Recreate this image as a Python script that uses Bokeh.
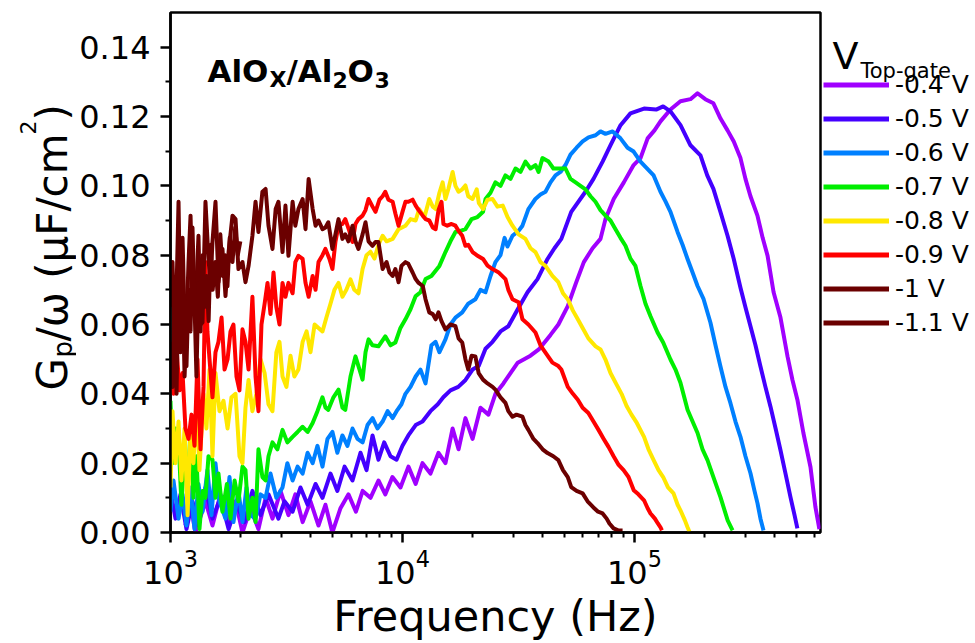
import math
from bokeh.plotting import figure
from bokeh.layouts import row
from bokeh.models import Range1d, Label, Legend, LegendItem, FixedTicker, PrintfTickFormatter
from bokeh.embed import file_html
from bokeh.resources import INLINE

# ---------------- data ----------------
f_04 = [1160,1220,1281,1415,1517,1642,1780,1907,2043,2212,2394,2570,2752,2980,3225,3453,3712,4013,4345,4655,
        4987,5405,5852,6300,6735,7280,7880,8430,9050,9804,10610,11400,12200,13205,14300,15320,16450,17450,18680,20050,
        21690,23480,25160,27240,29220,31400,35630,38700,43460,47000,51600,56000,60500,66000,71390,75000,81400,90000,99200,106200,
        114000,122000,129500,143000,157900,174400,187000,202000,219000,235000,252000,268000,286500,301000,316400,339000,357000,375000,398000,426200,
        457000,480000,504000,535000,574000,603000,627000]
g_04 = [0.002,0.008,0.0,0.009,0.002,0.011,0.003,0.009,0.0,0.007,0.001,0.010,0.004,0.012,0.005,0.011,0.003,0.009,0.002,0.008,
        0.0,0.007,0.011,0.006,0.012,0.010,0.015,0.011,0.016,0.013,0.019,0.014,0.020,0.017,0.023,0.020,0.030,0.024,0.033,0.027,
        0.036,0.034,0.040,0.043,0.046,0.049,0.051,0.0528,0.057,0.060,0.0653,0.072,0.078,0.082,0.0847,0.0904,0.0962,0.101,0.106,0.108,
        0.1137,0.116,0.1186,0.122,0.1244,0.125,0.1267,0.125,0.1238,0.1194,0.116,0.1128,0.108,0.102,0.097,0.0914,0.085,0.0798,0.0693,0.062,
        0.0508,0.044,0.0383,0.0287,0.0189,0.0073,0.001]

f_05 = [1000,1051,1104,1172,1244,1320,1415,1517,1642,1780,1925,2085,2255,2443,2645,2920,3100,3360,3634,3900,
        4220,4520,4894,5240,5630,6090,6592,7000,7430,7880,8340,8880,9430,10000,10600,11400,12200,13200,14200,15000,
        16100,17400,18700,20050,21300,22800,24450,26460,28600,31400,34600,38200,42200,45200,48400,53400,61500,66600,72900,78800,
        87100,96100,110000,124000,133000,143000,158000,174400,192600,206000,219000,235000,252000,268000,286500,301000,316400,332500,349400,367000,
        386000,406000,426000,448000,470600,490000,504000]
g_05 = [0.012,0.004,0.011,0.001,0.009,0.002,0.013,0.004,0.010,0.001,0.008,0.003,0.012,0.005,0.011,0.004,0.009,0.006,0.013,0.008,
        0.014,0.010,0.017,0.012,0.019,0.015,0.023,0.018,0.028,0.021,0.026,0.022,0.021,0.025,0.028,0.031,0.032,0.035,0.037,0.039,
        0.041,0.042,0.044,0.047,0.048,0.053,0.055,0.058,0.0595,0.0644,0.0693,0.0731,0.0789,0.082,0.0847,0.0925,0.0983,0.102,0.107,0.1117,
        0.1175,0.1209,0.1223,0.122,0.1229,0.1215,0.1175,0.1117,0.1088,0.103,0.0991,0.0924,0.0856,0.0789,0.0706,0.065,0.0595,0.054,0.0479,0.042,
        0.0363,0.030,0.0238,0.017,0.0102,0.005,0.0012]

f_06 = [1000,1030,1083,1127,1172,1220,1269,1320,1374,1443,1502,1563,1626,1726,1796,1868,1963,2043,2126,2212,
        2326,2443,2570,2698,2860,3040,3190,3360,3530,3712,3900,4100,4300,4520,4750,4990,5240,5510,5790,6090,
        6400,6730,7070,7430,7800,8210,8630,9070,9430,9900,10300,10830,11400,11960,12570,13330,13890,14430,15320,16100,
        16920,18100,19210,20620,21690,22800,23960,25160,26460,27550,28370,29800,31660,32900,34900,37400,39350,41350,43460,45670,
        47990,50430,53000,56300,59800,63400,68000,71390,75000,80500,87060,93400,99200,106200,111600,121000,129500,136100,143000,153400,
        161200,169400,178100,187100,198700,212700,223600,234900,246900,259400,272600,286500,301000,316400,329300,339300,349400,360100]
g_06 = [0.006,0.015,0.004,0.011,0.002,0.013,0.001,0.014,0.006,0.018,0.005,0.020,0.009,0.004,0.016,0.003,0.012,0.003,0.013,0.005,
        0.004,0.011,0.010,0.017,0.010,0.013,0.020,0.015,0.019,0.017,0.023,0.020,0.025,0.019,0.027,0.029,0.023,0.028,0.025,0.030,
        0.027,0.026,0.031,0.033,0.030,0.032,0.035,0.033,0.035,0.037,0.040,0.042,0.045,0.047,0.043,0.054,0.055,0.052,0.0557,0.060,
        0.062,0.0635,0.066,0.0673,0.070,0.0693,0.074,0.078,0.080,0.085,0.0825,0.0856,0.087,0.0885,0.0933,0.0962,0.0975,0.0983,0.101,0.103,
        0.104,0.106,0.109,0.111,0.1128,0.114,0.1146,0.1157,0.1150,0.1157,0.1137,0.111,0.1099,0.107,0.1055,0.103,0.0983,0.0955,0.0925,0.0867,
        0.083,0.0789,0.075,0.0711,0.0673,0.0605,0.054,0.0479,0.042,0.0373,0.032,0.0276,0.022,0.0171,0.012,0.0084,0.004,0.0006]

f_07 = [1000,1020,1051,1083,1115,1150,1185,1220,1256,1294,1333,1374,1415,1458,1517,1563,1610,1675,1750,1814,
        1890,1963,2043,2105,2170,2255,2326,2394,2490,2570,2645,2752,2890,3040,3190,3360,3530,3712,3900,4100,
        4300,4520,4660,4790,5040,5300,5510,5670,5970,6270,6530,6730,6930,7140,7430,7880,8430,8880,9320,9800,
        10300,10830,11400,11960,12570,13330,14430,15320,16100,16920,17790,18680,19860,21050,22250,22800,23960,25160,26460,27790,
        29220,30700,32270,33900,35630,37440,38600,40120,42650,44730,47000,50430,53000,55750,58530,61500,64640,67930,71390,75030,
        78840,82860,87060,91480,96150,101000,106200,111600,117300,125800,133000,143000,150300,157900,169400,178100,187100,196600,206500,219000,
        234900,252300,264800]
g_07 = [0.038,0.020,0.030,0.027,0.008,0.024,0.012,0.030,0.010,0.022,0.001,0.012,0.010,0.022,0.021,0.010,0.017,0.006,0.014,0.004,
        0.015,0.009,0.019,0.018,0.004,0.010,0.003,0.024,0.016,0.015,0.022,0.026,0.024,0.0296,0.026,0.0276,0.029,0.0305,0.029,0.0316,
        0.035,0.039,0.036,0.0354,0.039,0.0412,0.036,0.0354,0.045,0.0508,0.047,0.0441,0.052,0.0557,0.054,0.0537,0.0566,0.054,0.0548,0.059,
        0.0615,0.0644,0.0682,0.0693,0.0731,0.074,0.0769,0.0809,0.084,0.0867,0.087,0.0875,0.0904,0.091,0.0925,0.0962,0.098,0.101,0.100,0.103,
        0.102,0.105,0.104,0.107,0.105,0.106,0.104,0.108,0.107,0.105,0.105,0.105,0.102,0.101,0.100,0.099,0.097,0.0954,0.093,0.0914,
        0.090,0.0875,0.085,0.0827,0.079,0.0769,0.0711,0.066,0.0624,0.0577,0.0548,0.0499,0.047,0.0432,0.0354,0.032,0.0287,0.024,0.0209,0.016,
        0.0102,0.0035,0.0006]

f_08 = [1000,1020,1051,1083,1115,1150,1185,1220,1256,1294,1333,1388,1429,1473,1517,1563,1626,1692,1762,1832,
        1907,1983,2043,2105,2170,2255,2345,2443,2545,2645,2752,2860,2950,3040,3160,3290,3420,3560,3712,3860,
        4013,4180,4345,4520,4700,4894,5090,5300,5510,5730,5970,6200,6460,6730,7000,7280,7570,7880,8210,8540,
        9070,9620,10300,10830,11400,11800,12440,13050,13500,13900,14430,14900,15320,15760,16450,16920,17450,18100,18680,19210,
        20050,20900,21350,22250,23260,24450,25670,27050,28370,29800,31660,33900,35630,37440,39350,41350,44300,46990,49200,51600,
        54300,57000,59800,63300,68000,71390,75000,78840,84000,88000,92500,97100,102400,110000,115000,121000,127000,133000,139500,147400,
        153500,157900,165000,169400,172600]
g_08 = [0.013,0.035,0.020,0.032,0.015,0.030,0.005,0.030,0.020,0.038,0.018,0.040,0.030,0.047,0.022,0.046,0.035,0.038,0.030,0.039,
        0.040,0.022,0.020,0.036,0.044,0.035,0.040,0.050,0.046,0.037,0.035,0.052,0.055,0.045,0.042,0.051,0.045,0.047,0.055,0.058,
        0.052,0.060,0.059,0.058,0.062,0.066,0.070,0.072,0.068,0.070,0.073,0.070,0.069,0.076,0.080,0.081,0.079,0.083,0.0856,0.084,
        0.0847,0.0875,0.0885,0.0904,0.090,0.0933,0.091,0.0962,0.094,0.0933,0.098,0.101,0.0962,0.099,0.104,0.100,0.0983,0.099,0.1001,0.097,
        0.0962,0.099,0.095,0.0933,0.096,0.0962,0.094,0.0943,0.091,0.0885,0.086,0.0847,0.082,0.0809,0.078,0.0769,0.074,0.0722,0.069,0.0673,
        0.064,0.0615,0.059,0.056,0.0537,0.0528,0.0499,0.046,0.0425,0.040,0.0365,0.034,0.0316,0.0276,0.024,0.0209,0.018,0.016,0.013,0.0113,
        0.008,0.0064,0.0035,0.0015,0.0002]

f_09 = [1000,1030,1062,1094,1127,1160,1196,1232,1269,1307,1347,1388,1415,1443,1473,1517,1563,1610,1660,1710,
        1762,1814,1868,1925,1983,2043,2105,2170,2255,2326,2394,2467,2545,2620,2698,2780,2860,2950,3040,3130,
        3225,3360,3453,3560,3712,3820,3940,4100,4220,4345,4520,4655,4840,4990,5140,5300,5510,5670,5900,6090,
        6270,6460,6730,6930,7140,7430,7650,7960,8210,8430,8700,9070,9320,9620,10000,10300,10600,11060,11400,11740,
        12230,12570,13050,13500,13900,14300,14730,15020,15600,16270,16920,17450,18100,18680,19210,20050,20900,22250,23260,24450,
        25900,27790,28600,29800,31660,32900,34900,37440,39350,41350,44300,46990,48400,51600,54300,57000,59800,63300,66600,70000,
        73700,77300,81300,85500,89800,94300,99300,104000,110000,114000,117300,122500,126200,129500,131300]
g_09 = [0.048,0.040,0.053,0.041,0.046,0.030,0.027,0.034,0.025,0.050,0.024,0.042,0.078,0.058,0.050,0.039,0.052,0.055,0.062,0.047,
        0.050,0.058,0.060,0.045,0.041,0.0586,0.055,0.047,0.068,0.045,0.035,0.060,0.066,0.072,0.063,0.075,0.065,0.060,0.072,0.068,
        0.072,0.069,0.078,0.0798,0.0789,0.072,0.068,0.074,0.070,0.078,0.080,0.0818,0.079,0.076,0.0838,0.0885,0.089,0.0904,0.087,0.0838,
        0.089,0.0904,0.0914,0.093,0.0962,0.094,0.0925,0.096,0.097,0.0983,0.096,0.0954,0.092,0.0885,0.0925,0.0954,0.0954,0.096,0.0943,0.093,
        0.0914,0.0904,0.090,0.088,0.0875,0.093,0.0954,0.089,0.0885,0.089,0.0885,0.087,0.0856,0.0827,0.083,0.0809,0.080,0.0789,0.077,0.076,
        0.0751,0.0731,0.070,0.0673,0.0664,0.0615,0.060,0.0577,0.054,0.0519,0.049,0.048,0.047,0.042,0.040,0.0383,0.036,0.0345,0.032,0.0296,
        0.027,0.0247,0.022,0.0195,0.018,0.016,0.0122,0.011,0.0093,0.007,0.0055,0.004,0.0026,0.0015,0.0006]

f_10 = [1000,1020,1041,1062,1083,1104,1127,1150,1172,1196,1220,1244,1281,1320,1347,1374,1415,1458,1487,1517,
        1563,1610,1675,1726,1780,1850,1907,1963,2043,2105,2170,2255,2326,2394,2490,2570,2645,2752,2840,2920,
        3040,3130,3225,3360,3453,3560,3712,3820,3940,4100,4220,4345,4520,4655,4790,4990,5140,5300,5510,5670,
        5850,6090,6270,6460,6730,6930,7140,7430,7650,7880,8210,8540,8790,9070,9320,9620,9900,10300,10600,11060,
        11400,11740,12230,12570,13050,13500,13900,14300,14730,15320,16100,16920,17450,18100,18680,19210,19860,20620,21300,22250,
        23260,24450,25160,26460,27790,28600,29800,31000,32900,33900,34900,36700,38200,40200,42200,44700,46990,49200,51600,53400,
        56300,59800,62800,66400,69700,72900,75900,78000,81300,85000,88900]
g_10 = [0.065,0.078,0.056,0.070,0.0954,0.060,0.072,0.045,0.060,0.078,0.0914,0.070,0.0644,0.0856,0.060,0.0606,0.0954,0.0789,0.072,0.0838,
        0.0954,0.0722,0.0818,0.0682,0.0809,0.0914,0.0904,0.076,0.078,0.0722,0.0769,0.0856,0.0954,0.0867,0.0983,0.0991,0.0885,0.0818,0.0933,0.0954,
        0.0809,0.0943,0.0798,0.0954,0.0885,0.0933,0.0962,0.0875,0.102,0.0933,0.0885,0.090,0.0875,0.088,0.0895,0.0818,0.086,0.0904,0.0847,0.086,
        0.084,0.0885,0.084,0.0818,0.086,0.0895,0.084,0.0827,0.0838,0.0838,0.076,0.078,0.075,0.074,0.076,0.0722,0.0769,0.078,0.0775,0.075,
        0.0731,0.072,0.0711,0.0673,0.0635,0.063,0.0615,0.0635,0.061,0.0586,0.060,0.0595,0.056,0.0548,0.050,0.047,0.051,0.0508,0.046,0.0441,
        0.043,0.042,0.0412,0.039,0.0374,0.035,0.0334,0.034,0.0334,0.031,0.0296,0.027,0.0258,0.024,0.0229,0.022,0.0209,0.018,0.016,0.0131,
        0.012,0.0113,0.009,0.0073,0.006,0.0055,0.004,0.0026,0.0012,0.0006,0.0006]

f_11 = [1000,1020,1041,1062,1083,1104,1127,1150,1172,1196,1220,1244,1269,1294,1320,1347,1374,1400,1430,1460,
        1490,1520,1560,1600,1640,1680,1720,1760,1800,1850,1900,1950,2000]
g_11 = [0.055,0.042,0.068,0.040,0.075,0.052,0.085,0.062,0.048,0.070,0.058,0.088,0.066,0.045,0.072,0.058,0.080,0.065,0.074,0.061,
        0.083,0.070,0.078,0.068,0.086,0.074,0.080,0.071,0.085,0.078,0.088,0.080,0.084]

labels = ["-0.4 V", "-0.5 V", "-0.6 V", "-0.7 V", "-0.8 V", "-0.9 V", "-1 V", "-1.1 V"]
colors = ["#A000FF", "#4400FF", "#0080FF", "#00EE00", "#FFE800", "#FF0000", "#6B0000", "#6B0000"]
freqs = [f_04, f_05, f_06, f_07, f_08, f_09, f_10, f_11]
vals = [g_04, g_05, g_06, g_07, g_08, g_09, g_10, g_11]

y_ticks = [0.0, 0.02, 0.04, 0.06, 0.08, 0.10, 0.12, 0.14]
y_minor = [0.01, 0.03, 0.05, 0.07, 0.09, 0.11, 0.13]
x_ticks = [1e3, 1e4, 1e5]
x_minor = [2e3, 3e3, 4e3, 5e3, 6e3, 7e3, 8e3, 9e3, 2e4, 3e4, 4e4, 5e4, 6e4, 7e4, 8e4, 9e4,
           2e5, 3e5, 4e5, 5e5, 6e5]

FONT = "DejaVu Sans"
H = 643
W_LEFT = 76
W_RIGHT = 153


def blank_fig(w):
    f = figure(width=w, height=H, x_range=Range1d(0, 1), y_range=Range1d(0, 1),
               output_backend="svg", toolbar_location=None, min_border=0,
               x_axis_location=None, y_axis_location=None)
    f.grid.visible = False
    f.outline_line_color = None
    f.background_fill_color = "white"
    f.border_fill_color = "white"
    return f


def lab(fig, text, x, y, size, angle=0.0, bold=False, align="left"):
    fig.add_layout(Label(x=x, y=y, x_units="canvas", y_units="canvas", text=text,
                         text_font=FONT, text_font_size=f"{size}px",
                         text_font_style="bold" if bold else "normal",
                         text_color="black", text_align=align, text_baseline="alphabetic",
                         angle=angle))


# ---------------- main plot ----------------
p = figure(width=975 - W_LEFT - W_RIGHT, height=H, x_axis_type="log",
           x_range=Range1d(1000, 6.34e5), y_range=Range1d(0, 0.15),
           output_backend="svg", toolbar_location=None,
           min_border_left=170 - W_LEFT, min_border_right=2, min_border_top=12, min_border_bottom=111)
p.xgrid.visible = False
p.ygrid.visible = False
p.outline_line_color = "black"
p.outline_line_width = 2.5
p.outline_line_alpha = 1.0
p.background_fill_color = "white"
p.border_fill_color = "white"

for ax in (p.xaxis[0], p.yaxis[0]):
    ax.axis_line_width = 2.5
    ax.axis_line_color = "black"
    ax.major_tick_line_width = 2.5
    ax.minor_tick_line_width = 2
    ax.major_tick_line_color = "black"
    ax.minor_tick_line_color = "black"
    ax.major_tick_out = 10
    ax.major_tick_in = 0
    ax.minor_tick_out = 5
    ax.minor_tick_in = 0
    ax.major_label_text_font = FONT
    ax.major_label_text_font_size = "32px"
    ax.major_label_text_color = "black"

p.yaxis[0].ticker = FixedTicker(ticks=y_ticks, minor_ticks=y_minor)
p.yaxis[0].formatter = PrintfTickFormatter(format="%.2f")
p.yaxis[0].major_label_standoff = 10
p.xaxis[0].ticker = FixedTicker(ticks=x_ticks, minor_ticks=x_minor)
p.xaxis[0].major_label_standoff = 6
p.xaxis[0].axis_label = "Frequency (Hz)"
p.xaxis[0].axis_label_text_font = FONT
p.xaxis[0].axis_label_text_font_size = "43px"
p.xaxis[0].axis_label_text_font_style = "normal"
p.xaxis[0].axis_label_text_color = "black"
p.xaxis[0].axis_label_standoff = 4

for f, g, c in zip(freqs, vals, colors):
    p.line(f, g, line_color=c, line_width=4, line_join="round")

lab(p, "AlO", 207 - W_LEFT, 70, 31, bold=True)
lab(p, "X", 269 - W_LEFT, 79, 22, bold=True)
lab(p, "/Al", 286 - W_LEFT, 70, 31, bold=True)
lab(p, "2", 332 - W_LEFT, 79, 22, bold=True)
lab(p, "O", 347 - W_LEFT, 70, 31, bold=True)
lab(p, "3", 374 - W_LEFT, 79, 22, bold=True)

# ---------------- left strip: y-axis title ----------------
pl = blank_fig(W_LEFT)
A = math.pi / 2
lab(pl, "G", 52, 390, 42, angle=A)
lab(pl, "p", 62, 357, 26, angle=A)
lab(pl, "/\u03c9 (\u03bcF/cm", 52, 341, 42, angle=A)
lab(pl, "2", 27, 134, 22, angle=A)
lab(pl, ")", 52, 120, 42, angle=A)

# ---------------- right strip: legend (frame aligned with main plot: 12..532) ----------------
pr = blank_fig(W_RIGHT)
items = []
for c, name in zip(colors, labels):
    r = pr.line([0], [-1], line_color=c, line_width=5)
    items.append(LegendItem(label=name, renderers=[r]))
legend = Legend(items=items, location=(1, 195), glyph_width=66, glyph_height=21,
                label_height=21, spacing=5, label_standoff=6, padding=0, margin=0,
                border_line_color=None, background_fill_alpha=0,
                label_text_font=FONT, label_text_font_size="25px", label_text_color="black",
                label_text_baseline="middle")
pr.add_layout(legend, "center")
lab(pr, "V", 10, 55, 38)
lab(pr, "Top-gate", 38, 70, 21)

layout = row(pl, p, pr)
open("out.html", "w").write(file_html(layout, INLINE))
